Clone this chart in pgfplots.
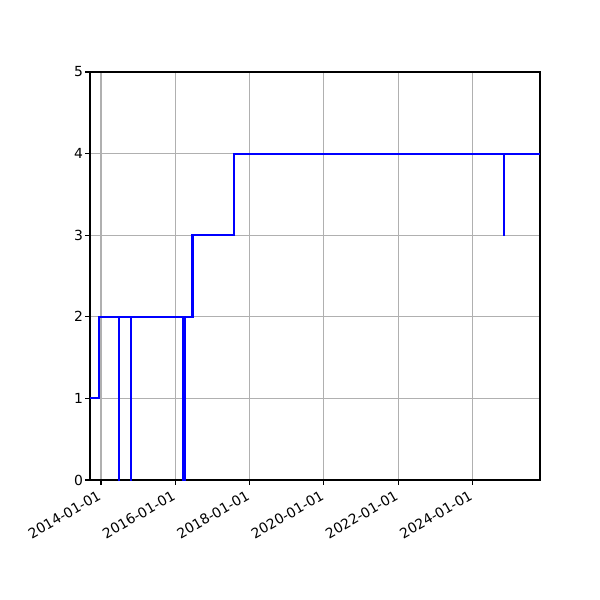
\documentclass[border=0pt]{standalone}
\usepackage{pgfplots}
\pgfplotsset{compat=1.18}
\usepackage{fontspec}
\setmainfont{DejaVu Sans}
\definecolor{gridgray}{HTML}{B0B0B0}
\begin{document}
\begin{tikzpicture}
\path[use as bounding box] (-90pt,-120pt) rectangle (510pt,480pt);
\begin{axis}[
  width=450pt, height=408pt, scale only axis,
  xmin=2013.704, xmax=2025.817, ymin=0, ymax=5,
  xtick={2014,2016,2018,2020,2022,2024},
  xticklabels={2014-01-01,2016-01-01,2018-01-01,2020-01-01,2022-01-01,2024-01-01},
  ytick={0,1,2,3,4,5},
  grid=major,
  major grid style={gridgray, line width=1.1pt},
  axis line style={black, line width=1.1pt},
  tick style={black, line width=1.1pt},
  tick align=outside, major tick length=4.9pt,
  xtick pos=bottom, ytick pos=left,
  ticklabel style={font=\fontsize{13.9}{16}\selectfont},
  /pgf/number format/assume math mode=true,
  x tick label style={rotate=30, anchor=north east, inner sep=2pt, xshift=-4pt},
  y tick label style={inner sep=2pt},
]
\addplot[const plot, blue, line width=2.1pt, mark=none] coordinates {
  (2013.704,1) (2013.954,2)
  (2014.476,0) (2014.478,2)
  (2014.800,0) (2014.802,2)
  (2016.221,0) (2016.223,2)
  (2016.261,0) (2016.263,2)
  (2016.463,3) (2017.580,4)
  (2024.848,3) (2024.850,4)
  (2025.817,4)
};
\end{axis}
\end{tikzpicture}
\end{document}
